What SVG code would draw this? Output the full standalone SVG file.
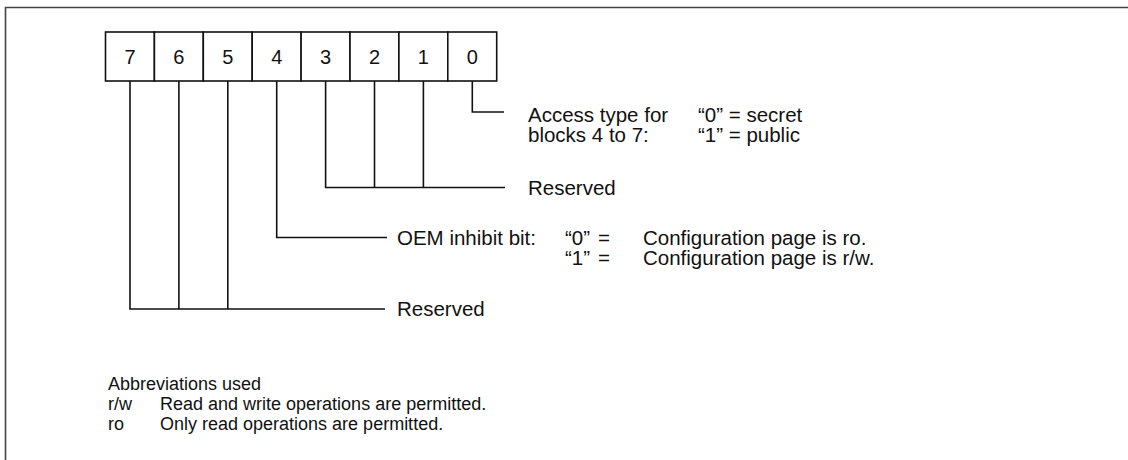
<svg xmlns="http://www.w3.org/2000/svg" width="1128" height="460" viewBox="0 0 1128 460">
<style>
text{font-family:"Liberation Sans",Arial,sans-serif;font-size:20.5px;fill:#111}
.c{text-anchor:middle;font-size:20px}
.s{font-size:18px}
.ln{fill:none;stroke:#111;stroke-width:1.6}
.cell{fill:#fff;stroke:#111;stroke-width:1.6}
</style>
<rect width="1128" height="460" fill="#fff"/>
<path d="M5.5 460V7.5H1128" fill="none" stroke="#444" stroke-width="1.6"/>
<g id="register">
<rect class="cell" x="105.5" y="32" width="48.9" height="49"/>
<rect class="cell" x="154.4" y="32" width="48.9" height="49"/>
<rect class="cell" x="203.3" y="32" width="48.9" height="49"/>
<rect class="cell" x="252.2" y="32" width="48.9" height="49"/>
<rect class="cell" x="301.1" y="32" width="48.9" height="49"/>
<rect class="cell" x="350" y="32" width="48.9" height="49"/>
<rect class="cell" x="398.9" y="32" width="48.9" height="49"/>
<rect class="cell" x="447.8" y="32" width="48.9" height="49"/>
<text class="c" x="130" y="64">7</text>
<text class="c" x="178.9" y="64">6</text>
<text class="c" x="227.8" y="64">5</text>
<text class="c" x="276.7" y="64">4</text>
<text class="c" x="325.6" y="64">3</text>
<text class="c" x="374.5" y="64">2</text>
<text class="c" x="423.4" y="64">1</text>
<text class="c" x="472.3" y="64">0</text>
</g>
<g id="connectors">
<path class="ln" d="M472.3 81V112H504"/>
<path class="ln" d="M325.6 81V187.5H505M374.5 81V187.5M423.4 81V187.5"/>
<path class="ln" d="M276.7 81V237.5H387"/>
<path class="ln" d="M130 81V309H385M178.9 81V309M227.8 81V309"/>
</g>
<g id="bit0-label">
<text x="528" y="122">Access type for</text>
<text x="528" y="142">blocks 4 to 7:</text>
<text x="698" y="122">“0” = secret</text>
<text x="698" y="142">“1” = public</text>
</g>
<g id="bits123-label">
<text x="528" y="195">Reserved</text>
</g>
<g id="bit4-label">
<text x="397" y="245">OEM inhibit bit:</text>
<text x="565" y="245">“0”</text>
<text x="598" y="245">=</text>
<text x="643" y="245">Configuration page is ro.</text>
<text x="565" y="265">“1”</text>
<text x="598" y="265">=</text>
<text x="643" y="265">Configuration page is r/w.</text>
</g>
<g id="bits567-label">
<text x="397" y="316">Reserved</text>
</g>
<g id="legend">
<text class="s" x="108" y="390">Abbreviations used</text>
<text class="s" x="108" y="410">r/w</text>
<text class="s" x="160" y="410">Read and write operations are permitted.</text>
<text class="s" x="108" y="430">ro</text>
<text class="s" x="160" y="430">Only read operations are permitted.</text>
</g>
</svg>
